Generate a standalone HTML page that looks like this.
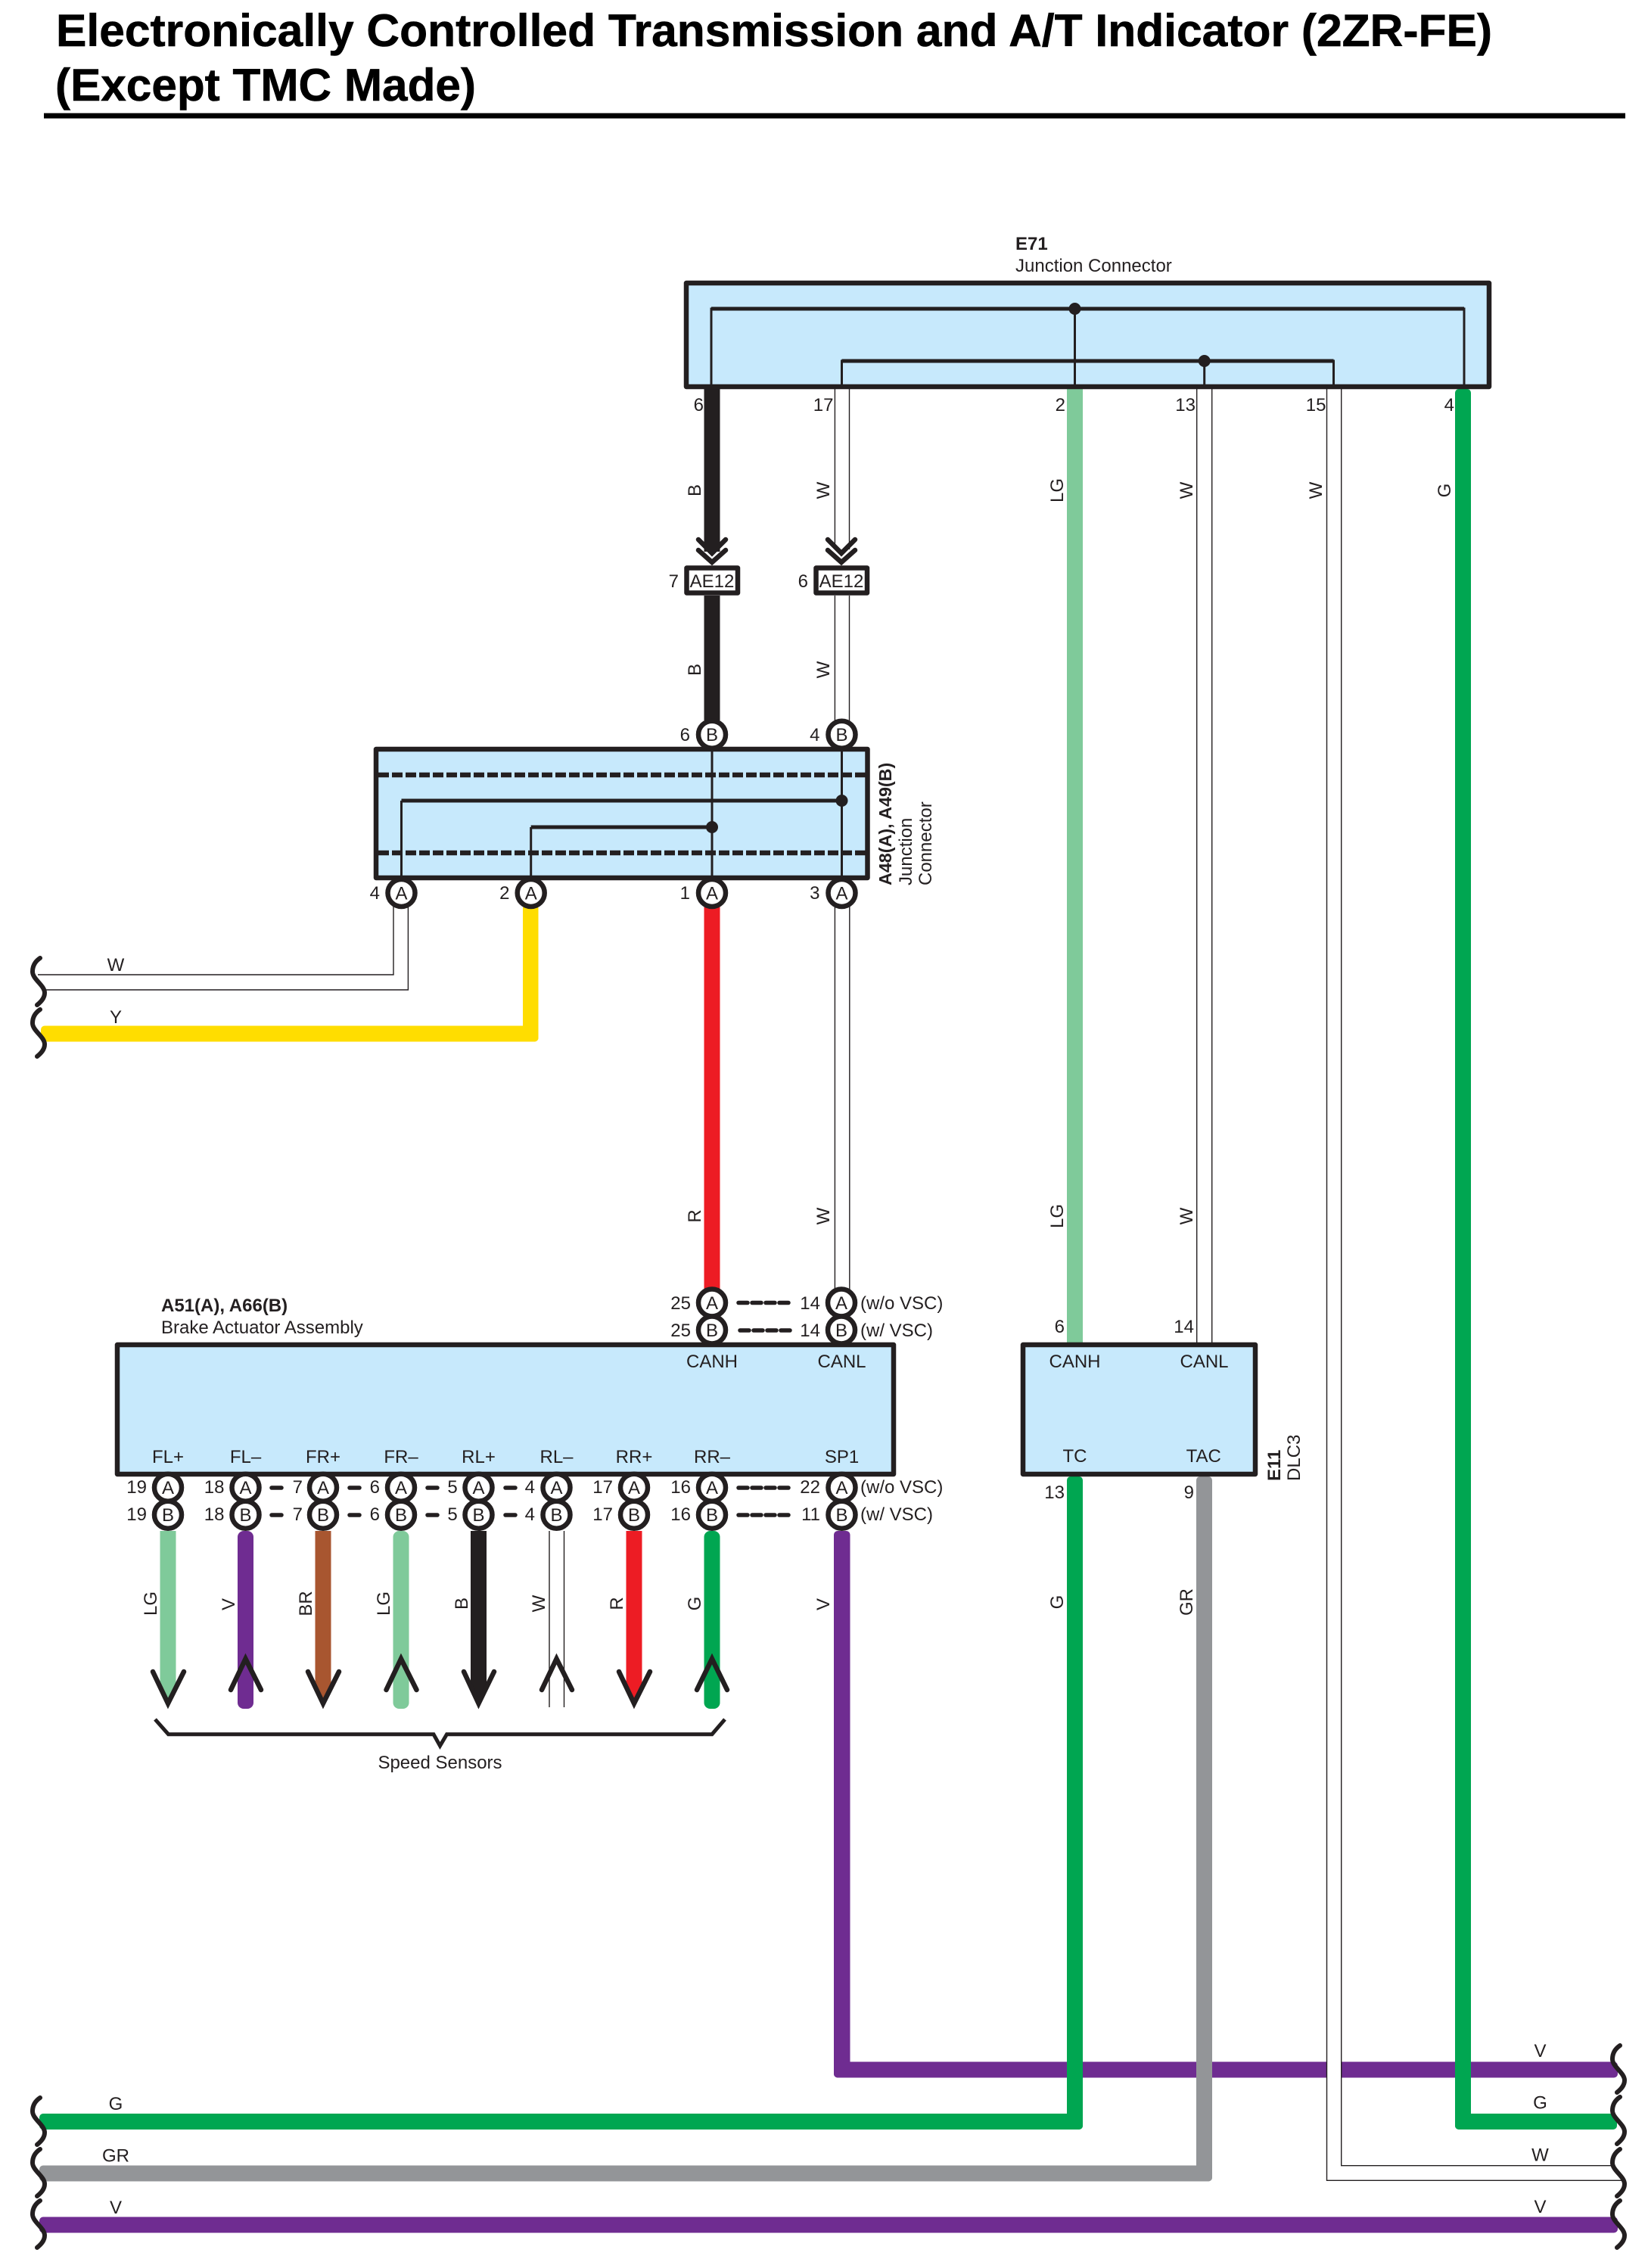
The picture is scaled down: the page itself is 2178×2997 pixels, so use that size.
<!DOCTYPE html>
<html><head><meta charset="utf-8"><title>Electronically Controlled Transmission and A/T Indicator</title>
<style>
html,body{margin:0;padding:0;background:#fff}
svg{display:block}
text{font-family:"Liberation Sans",sans-serif;font-size:24px;fill:#231f20}
.b{font-weight:bold}
.e{text-anchor:end}
.m{text-anchor:middle}
.w{stroke:#231f20;stroke-width:1.4;fill:none}
.box{fill:#c7e9fc;stroke:#231f20;stroke-width:6.500;stroke-linejoin:round}
.in{stroke:#231f20;fill:none;stroke-width:3}
.inh{stroke:#231f20;fill:none;stroke-width:5}
.c{fill:#fff;stroke:#231f20;stroke-width:6.500}
.d{stroke:#231f20;stroke-width:5.500;stroke-linecap:round;stroke-dasharray:12 6;fill:none}
.sd{stroke:#231f20;stroke-width:5.500;stroke-linecap:round;fill:none}
.ar{fill:none;stroke:#231f20;stroke-width:6.500;stroke-linecap:round;stroke-linejoin:miter;stroke-miterlimit:10}
.sq{fill:none;stroke:#231f20;stroke-width:6;stroke-linecap:round}
.t{font-size:60px;fill:#000;font-weight:bold;stroke:#000;stroke-width:.6}
</style></head>
<body>
<svg xmlns="http://www.w3.org/2000/svg" width="2178" height="2997" viewBox="0 0 2178 2997">
<defs>
<path id="s" class="sq" d="M53 0C47 4 43 10 43 18C43 28 59 36 59 46C59 53 54 58 49 62"/>
</defs>
<rect width="2178" height="2997" fill="#fff"/>

<!-- Title -->
<text x="74" y="61" class="t" textLength="1898" lengthAdjust="spacingAndGlyphs">Electronically Controlled Transmission and A/T Indicator (2ZR-FE)</text>
<text x="73" y="133" class="t" textLength="556" lengthAdjust="spacingAndGlyphs">(Except TMC Made)</text>
<rect x="58" y="149.500" width="2090" height="7" fill="#000"/>

<!-- Horizontal V wires -->
<rect x="1102" y="2724.500" width="1036" height="21" rx="5" fill="#6f2c91"/>
<rect x="1102" y="2023" width="21.500" height="722.500" rx="5" fill="#6f2c91"/>
<rect x="52" y="2929.500" width="2086" height="21" rx="5" fill="#6f2c91"/>

<!-- W15 wire -->
<rect x="1753.500" y="514" width="19.200" height="2367" fill="#fff"/>
<path class="w" d="M1753.500 514V2881.300H2143"/>
<path class="w" d="M1772.700 514V2861.700H2133"/>

<!-- LG / G column -->
<rect x="1410" y="514" width="21" height="1260" fill="#7fca9a"/>
<rect x="1410" y="1951" width="21" height="863" rx="5" fill="#00a651"/>
<rect x="52" y="2793" width="1379" height="21" rx="5" fill="#00a651"/>
<!-- W13 -->
<path class="w" d="M1581.700 514V1774M1601.700 514V1774"/>
<!-- GR -->
<rect x="1581" y="1951" width="21" height="931.500" rx="5" fill="#939598"/>
<rect x="52" y="2861.500" width="1550" height="21" rx="5" fill="#939598"/>
<!-- right G -->
<rect x="1923" y="514" width="21" height="2300" rx="5" fill="#00a651"/>
<rect x="1923" y="2793" width="214" height="21" rx="5" fill="#00a651"/>

<!-- B wire -->
<rect x="930.500" y="514" width="21" height="215" fill="#231f20"/>
<rect x="930.500" y="787" width="21" height="165" fill="#231f20"/>
<!-- W17 wire -->
<path class="w" d="M1103.400 514V726M1122.500 514V726M1103.400 787V955M1122.500 787V955"/>
<!-- R wire -->
<rect x="930.500" y="1195" width="21" height="510" fill="#ed1c24"/>
<!-- W3 wire -->
<path class="w" d="M1103.400 1195V1705M1122.800 1195V1705"/>
<!-- W A4 wire -->
<path class="w" d="M520 1195V1288H50"/>
<path class="w" d="M539.400 1195V1308H60"/>
<!-- Y wire -->
<rect x="691" y="1195" width="20.500" height="181.500" rx="5" fill="#ffdd00"/>
<rect x="54" y="1355.500" width="657.500" height="21" rx="5" fill="#ffdd00"/>

<!-- Squiggles left -->
<use href="#s" y="1266"/><use href="#s" y="1334"/>
<use href="#s" y="2772"/><use href="#s" y="2840"/><use href="#s" y="2908"/>
<!-- Squiggles right -->
<use href="#s" x="2088" y="2703"/><use href="#s" x="2088" y="2771"/><use href="#s" x="2088" y="2840"/><use href="#s" x="2088" y="2908"/>

<!-- E71 -->
<rect class="box" x="907" y="374" width="1061" height="137"/>
<path class="in" d="M940 511V408H1935V511"/>
<path class="inh" d="M940 408H1935"/>
<path class="in" d="M1420.500 408V511M1591.700 477V511"/>
<path class="in" d="M1112.500 511V477H1762.500V511"/>
<path class="inh" d="M1112.500 477H1762.500"/>
<circle cx="1420.500" cy="408" r="8" fill="#231f20"/>
<circle cx="1591.700" cy="477" r="8" fill="#231f20"/>
<text x="1342" y="330" class="b">E71</text>
<text x="1342" y="359">Junction Connector</text>
<text x="930" y="543" class="e">6</text>
<text x="1101.500" y="543" class="e">17</text>
<text x="1408" y="543" class="e">2</text>
<text x="1580" y="543" class="e">13</text>
<text x="1752.500" y="543" class="e">15</text>
<text x="1922" y="543" class="e">4</text>

<!-- Rotated upper labels -->
<text transform="translate(926 648) rotate(-90)" class="m">B</text>
<text transform="translate(1096 648) rotate(-90)" class="m">W</text>
<text transform="translate(1405 648) rotate(-90)" class="m">LG</text>
<text transform="translate(1576 648) rotate(-90)" class="m">W</text>
<text transform="translate(1747 648) rotate(-90)" class="m">W</text>
<text transform="translate(1917 648) rotate(-90)" class="m">G</text>
<text transform="translate(926 885) rotate(-90)" class="m">B</text>
<text transform="translate(1096 885) rotate(-90)" class="m">W</text>
<text transform="translate(926 1607) rotate(-90)" class="m">R</text>
<text transform="translate(1096 1607) rotate(-90)" class="m">W</text>
<text transform="translate(1405 1607) rotate(-90)" class="m">LG</text>
<text transform="translate(1576 1607) rotate(-90)" class="m">W</text>
<text transform="translate(1405 2117) rotate(-90)" class="m">G</text>
<text transform="translate(1576 2117) rotate(-90)" class="m">GR</text>

<!-- Chevrons -->
<path class="ar" d="M923 713L941 731L959 713M923 727L941 743L959 727"/>
<path class="ar" d="M1094 713L1112 731L1130 713M1094 727L1112 743L1130 727"/>

<!-- AE12 -->
<rect x="907.500" y="750.500" width="67.500" height="33" fill="#fff" stroke="#231f20" stroke-width="6.500" stroke-linejoin="round"/>
<rect x="1078.500" y="750.500" width="67.500" height="33" fill="#fff" stroke="#231f20" stroke-width="6.500" stroke-linejoin="round"/>
<text x="941" y="776" class="m">AE12</text>
<text x="1112" y="776" class="m">AE12</text>
<text x="897" y="776" class="e">7</text>
<text x="1068" y="776" class="e">6</text>

<!-- A48/A49 -->
<rect class="box" x="497" y="990" width="649.500" height="170"/>
<path d="M500 1024H1144M500 1127H1144" fill="none" stroke="#231f20" stroke-width="6.500" stroke-dasharray="14 4"/>
<path class="in" d="M941 990V1160M1112.500 990V1160M530.500 1058V1160M701.700 1093V1160"/>
<path class="inh" d="M530.500 1058H1112.500M701.700 1093H941"/>
<circle cx="1112.500" cy="1058" r="8" fill="#231f20"/>
<circle cx="941" cy="1093" r="8" fill="#231f20"/>
<circle class="c" cx="941" cy="970.700" r="18"/><text x="941" y="979" class="m">B</text>
<circle class="c" cx="1112.500" cy="970.700" r="18"/><text x="1112.500" y="979" class="m">B</text>
<circle class="c" cx="530.500" cy="1180" r="18"/><text x="530.500" y="1188.500" class="m">A</text>
<circle class="c" cx="701.700" cy="1180" r="18"/><text x="701.700" y="1188.500" class="m">A</text>
<circle class="c" cx="941" cy="1180" r="18"/><text x="941" y="1188.500" class="m">A</text>
<circle class="c" cx="1112.500" cy="1180" r="18"/><text x="1112.500" y="1188.500" class="m">A</text>
<text x="912" y="979" class="e">6</text>
<text x="1083.500" y="979" class="e">4</text>
<text x="502" y="1188" class="e">4</text>
<text x="673.500" y="1188" class="e">2</text>
<text x="912" y="1188" class="e">1</text>
<text x="1083.500" y="1188" class="e">3</text>
<text transform="translate(1178 1170) rotate(-90)" class="b" style="font-size:23.300px">A48(A), A49(B)</text>
<text transform="translate(1205 1170) rotate(-90)">Junction</text>
<text transform="translate(1231 1170) rotate(-90)">Connector</text>
<text x="153" y="1283" class="m">W</text>
<text x="153" y="1352" class="m">Y</text>

<!-- Brake actuator -->
<rect class="box" x="155" y="1777" width="1026" height="171"/>
<text x="213" y="1733" class="b">A51(A), A66(B)</text>
<text x="213" y="1762">Brake Actuator Assembly</text>
<text x="941" y="1807" class="m">CANH</text>
<text x="1112.500" y="1807" class="m">CANL</text>
<text x="222" y="1933" class="m">FL+</text>
<text x="324.500" y="1933" class="m">FL&#8211;</text>
<text x="427" y="1933" class="m">FR+</text>
<text x="530" y="1933" class="m">FR&#8211;</text>
<text x="632.500" y="1933" class="m">RL+</text>
<text x="735.500" y="1933" class="m">RL&#8211;</text>
<text x="838" y="1933" class="m">RR+</text>
<text x="941" y="1933" class="m">RR&#8211;</text>
<text x="1112.500" y="1933" class="m">SP1</text>

<!-- top circles -->
<circle class="c" cx="941" cy="1721.500" r="18"/><text x="941" y="1730" class="m">A</text>
<circle class="c" cx="941" cy="1757.500" r="18"/><text x="941" y="1766" class="m">B</text>
<circle class="c" cx="1112" cy="1721.500" r="18"/><text x="1112" y="1730" class="m">A</text>
<circle class="c" cx="1112" cy="1757.500" r="18"/><text x="1112" y="1766" class="m">B</text>
<text x="913" y="1730" class="e">25</text><text x="913" y="1766" class="e">25</text>
<text x="1084" y="1730" class="e">14</text><text x="1084" y="1766" class="e">14</text>
<text x="1137" y="1730">(w/o VSC)</text><text x="1137" y="1766">(w/ VSC)</text>
<path class="d" d="M976 1721.500H1045"/>
<path class="d" d="M978 1758H1047"/>

<!-- DLC3 -->
<rect class="box" x="1352" y="1777" width="307" height="171"/>
<text x="1420.500" y="1807" class="m">CANH</text>
<text x="1591.500" y="1807" class="m">CANL</text>
<text x="1420.500" y="1932" class="m">TC</text>
<text x="1590.700" y="1932" class="m">TAC</text>
<text x="1407" y="1761" class="e">6</text>
<text x="1578" y="1761" class="e">14</text>
<text x="1407" y="1980" class="e">13</text>
<text x="1578" y="1980" class="e">9</text>
<text transform="translate(1692 1957) rotate(-90)" class="b">E11</text>
<text transform="translate(1718 1957) rotate(-90)">DLC3</text>

<!-- Wires to speed sensors -->
<polygon points="211.500,2023 232.500,2023 232.500,2234 222,2258 211.500,2234" fill="#7fca9a"/>
<rect x="314" y="2023" width="21" height="235" rx="8" fill="#6f2c91"/>
<polygon points="416.500,2023 437.500,2023 437.500,2234 427,2258 416.500,2234" fill="#a85630"/>
<rect x="519.500" y="2023" width="21" height="235" rx="8" fill="#7fca9a"/>
<polygon points="622,2023 643,2023 643,2234 632.500,2258 622,2234" fill="#231f20"/>
<path class="w" d="M726 2023V2256M745.500 2023V2256"/>
<polygon points="827.500,2023 848.500,2023 848.500,2234 838,2258 827.500,2234" fill="#ed1c24"/>
<rect x="930.500" y="2023" width="21" height="235" rx="8" fill="#00a651"/>

<!-- lower circles -->
<g>
<circle class="c" cx="222" cy="1965.700" r="18"/><text x="222" y="1974" class="m">A</text>
<circle class="c" cx="222" cy="2001.700" r="18"/><text x="222" y="2010" class="m">B</text>
<circle class="c" cx="324.500" cy="1965.700" r="18"/><text x="324.500" y="1974" class="m">A</text>
<circle class="c" cx="324.500" cy="2001.700" r="18"/><text x="324.500" y="2010" class="m">B</text>
<circle class="c" cx="427" cy="1965.700" r="18"/><text x="427" y="1974" class="m">A</text>
<circle class="c" cx="427" cy="2001.700" r="18"/><text x="427" y="2010" class="m">B</text>
<circle class="c" cx="530" cy="1965.700" r="18"/><text x="530" y="1974" class="m">A</text>
<circle class="c" cx="530" cy="2001.700" r="18"/><text x="530" y="2010" class="m">B</text>
<circle class="c" cx="632.500" cy="1965.700" r="18"/><text x="632.500" y="1974" class="m">A</text>
<circle class="c" cx="632.500" cy="2001.700" r="18"/><text x="632.500" y="2010" class="m">B</text>
<circle class="c" cx="735.500" cy="1965.700" r="18"/><text x="735.500" y="1974" class="m">A</text>
<circle class="c" cx="735.500" cy="2001.700" r="18"/><text x="735.500" y="2010" class="m">B</text>
<circle class="c" cx="838" cy="1965.700" r="18"/><text x="838" y="1974" class="m">A</text>
<circle class="c" cx="838" cy="2001.700" r="18"/><text x="838" y="2010" class="m">B</text>
<circle class="c" cx="941" cy="1965.700" r="18"/><text x="941" y="1974" class="m">A</text>
<circle class="c" cx="941" cy="2001.700" r="18"/><text x="941" y="2010" class="m">B</text>
<circle class="c" cx="1112.500" cy="1965.700" r="18"/><text x="1112.500" y="1974" class="m">A</text>
<circle class="c" cx="1112.500" cy="2001.700" r="18"/><text x="1112.500" y="2010" class="m">B</text>
</g>
<text x="194" y="1973" class="e">19</text><text x="194" y="2009" class="e">19</text>
<text x="296.500" y="1973" class="e">18</text><text x="296.500" y="2009" class="e">18</text>
<text x="400" y="1973" class="e">7</text><text x="400" y="2009" class="e">7</text>
<text x="502" y="1973" class="e">6</text><text x="502" y="2009" class="e">6</text>
<text x="604.700" y="1973" class="e">5</text><text x="604.700" y="2009" class="e">5</text>
<text x="707" y="1973" class="e">4</text><text x="707" y="2009" class="e">4</text>
<text x="810" y="1973" class="e">17</text><text x="810" y="2009" class="e">17</text>
<text x="913" y="1973" class="e">16</text><text x="913" y="2009" class="e">16</text>
<text x="1084" y="1973" class="e">22</text><text x="1084" y="2009" class="e">11</text>
<text x="1137" y="1973">(w/o VSC)</text><text x="1137" y="2009">(w/ VSC)</text>
<path class="sd" d="M359 1966H372M462 1966H475M565 1966H578M668 1966H681M359 2002H372M462 2002H475M565 2002H578M668 2002H681"/>
<path class="d" d="M976 1966H1044"/>
<path class="d" d="M976 2002H1044"/>

<!-- Arrowheads -->
<path class="ar" d="M202 2209L222 2251L243 2209"/>
<path class="ar" d="M305 2233L324.500 2192L345 2233"/>
<path class="ar" d="M407 2209L427 2251L448 2209"/>
<path class="ar" d="M510.500 2233L530 2192L550.500 2233"/>
<path class="ar" d="M613 2209L632.500 2251L653 2209"/>
<path class="ar" d="M716 2233L735.500 2192L756 2233"/>
<path class="ar" d="M818 2209L838 2251L859 2209"/>
<path class="ar" d="M921 2233L941 2192L961 2233"/>

<!-- Speed sensor labels -->
<text transform="translate(207 2119) rotate(-90)" class="m">LG</text>
<text transform="translate(310 2120) rotate(-90)" class="m">V</text>
<text transform="translate(412 2119) rotate(-90)" class="m">BR</text>
<text transform="translate(515 2119) rotate(-90)" class="m">LG</text>
<text transform="translate(618 2119) rotate(-90)" class="m">B</text>
<text transform="translate(720 2119) rotate(-90)" class="m">W</text>
<text transform="translate(823 2119) rotate(-90)" class="m">R</text>
<text transform="translate(926 2119) rotate(-90)" class="m">G</text>
<text transform="translate(1096 2120) rotate(-90)" class="m">V</text>

<!-- Bracket -->
<path d="M205 2272L222.500 2291.700H573L581.500 2307L590.500 2291.700H941L958 2272" fill="none" stroke="#231f20" stroke-width="5" stroke-linejoin="miter"/>
<text x="581.500" y="2337" class="m">Speed Sensors</text>

<!-- Bottom labels -->
<text x="153" y="2788" class="m">G</text>
<text x="153" y="2856.500" class="m">GR</text>
<text x="153" y="2925" class="m">V</text>
<text x="2035.500" y="2718" class="m">V</text>
<text x="2035.500" y="2786.500" class="m">G</text>
<text x="2035.500" y="2855.500" class="m">W</text>
<text x="2035.500" y="2924" class="m">V</text>
</svg>
</body></html>
